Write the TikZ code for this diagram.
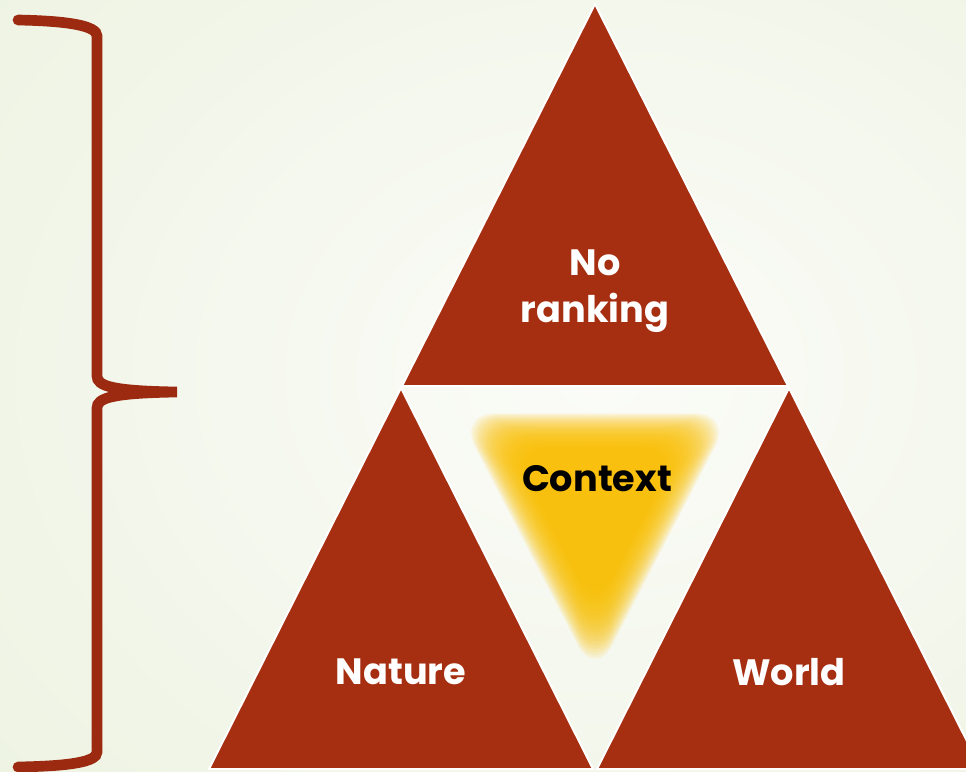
\documentclass[tikz,border=0pt]{standalone}
\usepackage{fontspec}
\setsansfont{Poppins}
\usepackage{tikz}
\usetikzlibrary{calc}
\usepackage{xcolor}
\definecolor{rust}{RGB}{166,47,17}
\definecolor{braceRed}{RGB}{156,42,16}
\definecolor{glow}{RGB}{255,192,0}
\definecolor{bgPale}{RGB}{251,252,248}
\definecolor{bgGreen}{RGB}{236,242,224}

\begin{document}
\begin{tikzpicture}[x=0.75pt,y=0.75pt,yscale=-1,xscale=1,
  tri/.style={fill=rust,draw=white,line width=1.5pt,line join=miter},
  label/.style={inner sep=0.75pt,font=\sffamily\bfseries\fontsize{27.5}{35}\selectfont,align=center}]
\useasboundingbox (0,0) rectangle (966,771);

%Background
\shade[inner color=bgPale,outer color=bgGreen] (-300,-350) rectangle (1500,1100);

%Shape: Brace
\draw [braceRed,line width=8pt,line cap=round] (18,20) .. controls (70,21) and (97,26) .. (97,36) -- (97,376) .. controls (97,386) and (112,391) .. (177,392) .. controls (112,393) and (97,398) .. (97,408) -- (97,752) .. controls (97,762) and (70,766) .. (18,767) ;

%Shape: Triangle top
\draw [tri] (595,4) -- (788,386) -- (402,386) -- cycle ;
%Shape: Triangle left
\draw [tri] (401,388) -- (593,769) -- (209,769) -- cycle ;
%Shape: Triangle right
\draw [tri] (789,388) -- (981,769) -- (597,769) -- cycle ;

%Glow in the middle
\foreach \s in {1.08,1.06,...,0.64}
  \fill [glow,opacity=0.11,rounded corners=28] ($(595,502)+\s*(-127,-82)$) -- ($(595,502)+\s*(127,-82)$) -- ($(595,502)+\s*(0,163)$) -- cycle ;

% Text Node
\draw (595,291) node (ranking) [label,text=white] {No\\ranking};
% Text Node
\draw (597,479) node (context) [label,text=black] {Context};
% Text Node
\draw (401,672) node (nature) [label,text=white] {Nature};
% Text Node
\draw (789,672) node (world) [label,text=white] {World};
\end{tikzpicture}
\end{document}
